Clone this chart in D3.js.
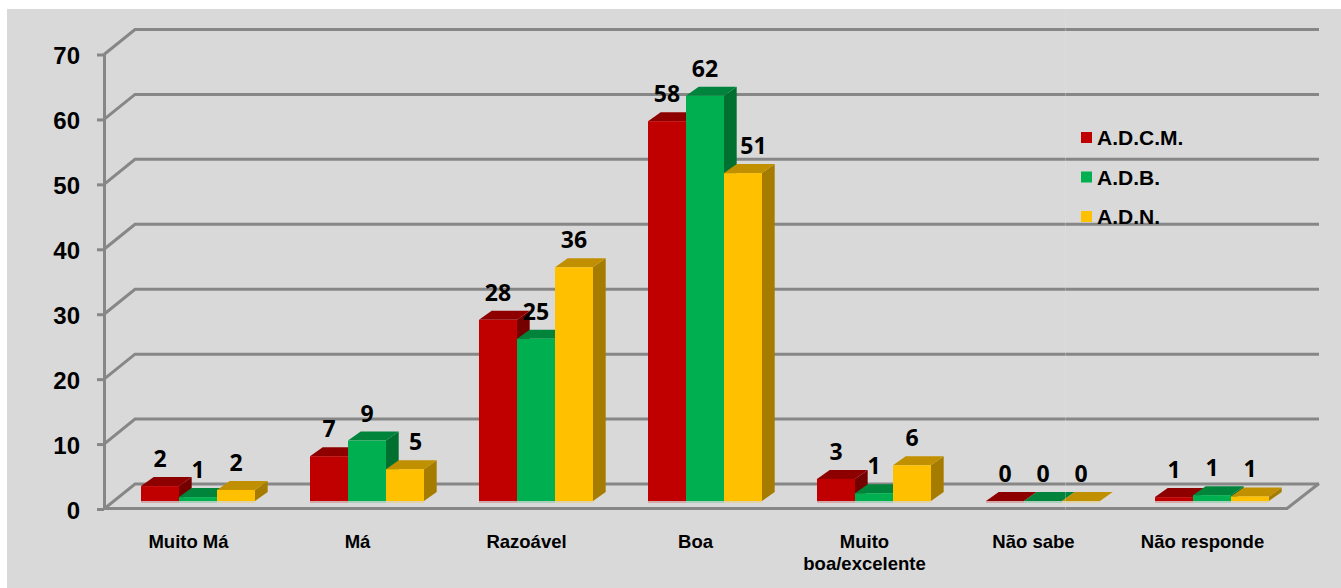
<!DOCTYPE html>
<html lang="pt">
<head>
<meta charset="utf-8">
<script src="https://cdn.jsdelivr.net/npm/d3@7/dist/d3.min.js"></script>
<style>
html,body{margin:0;padding:0;background:#fff;overflow:hidden}
svg{display:block}
</style>
</head>
<body>
<svg id="chart" width="1341" height="588"></svg>
<script>
const categories = ["Muito Má","Má","Razoável","Boa","Muito boa/excelente","Não sabe","Não responde"];
const seriesNames = ["A.D.C.M.","A.D.B.","A.D.N."];
const tickValues = [0,10,20,30,40,50,60,70];
// Drawn heights
const adcm = [2.3,6.9,27.9,58.5,3.4,0,0.6];
const adb  = [0.6,9.3,25,62.4,1.2,0,0.9];
const adn  = [1.7,4.9,36,50.5,5.5,0,0.7];
// Printed data labels
const adcmLabels = [2,7,28,58,3,0,1];
const adbLabels  = [1,9,25,62,1,0,1];
const adnLabels  = [2,5,36,51,6,0,1];

const faces = [
  {front:"#C00000",top:"#8E0000",side:"#750000"},
  {front:"#00B050",top:"#00843C",side:"#007030"},
  {front:"#FFC000",top:"#C09000",side:"#A67C00"}
];
const lineColor = "#878787";
const svg = d3.select("#chart");
svg.append("rect").attr("x",7).attr("y",9).attr("width",1334).attr("height",579).attr("fill","#D9D9D9");

const y = d3.scaleLinear().domain([0,70]).range([509,54.5]);
const x = d3.scaleBand().domain(categories).range([104,1287]);
const gap = 27.5;
const inner = d3.scaleBand().domain(seriesNames).range([gap, x.bandwidth()-gap]);
const wallDX = 31, wallDY = -25;          // full depth of the floor
const barOX = 9.5, barOY = -8;            // bars stand inside the floor
const barDX = 12.7, barDY = -9;           // depth of one bar

// gridlines on the walls
const grid = svg.append("g").attr("fill","none").attr("stroke",lineColor).attr("stroke-width",3);
tickValues.forEach(t=>{
  const p = d3.path();
  p.moveTo(104,y(t));
  p.lineTo(104+wallDX,y(t)+wallDY);
  p.lineTo(1319,y(t)+wallDY);
  grid.append("path").attr("d",p.toString()).attr("stroke-linejoin","miter");
});
// floor outline front + right
const floor = d3.path();
floor.moveTo(104,y(0)-0.5);
floor.lineTo(1287,y(0)-0.5);
floor.lineTo(1287+wallDX+1,y(0)+wallDY-0.5);
grid.append("path").attr("d",floor.toString());

// axis with ticks
const axis = d3.axisLeft(y).tickValues(tickValues).tickSize(7).tickSizeOuter(0).tickPadding(17);
const ag = svg.append("g").attr("transform","translate(104,0)").call(axis);
ag.select(".domain").attr("stroke",lineColor).attr("stroke-width",3);
ag.selectAll(".tick line").attr("stroke",lineColor).attr("stroke-width",3);
ag.selectAll(".tick text")
  .attr("fill","#000").attr("dy",null).attr("dominant-baseline",null)
  .attr("y",9)
  .style("font","bold 24px 'Liberation Sans',Arial,sans-serif");

// bars
const seriesData = [
  {name:seriesNames[0],values:adcm,labels:adcmLabels,c:faces[0]},
  {name:seriesNames[1],values:adb,labels:adbLabels,c:faces[1]},
  {name:seriesNames[2],values:adn,labels:adnLabels,c:faces[2]}
];
const bars = svg.append("g");
const poly = pts => pts.map(p=>p.join(",")).join(" ");
categories.forEach((c,ci)=>{
  seriesData.forEach(s=>{
    const x0 = x(c)+inner(s.name)+barOX, w = inner.bandwidth();
    const base = y(0)+barOY, top = y(s.values[ci])+barOY;
    const g = bars.append("g");
    g.append("polygon").attr("fill",s.c.side)
      .attr("points",poly([[x0+w,top],[x0+w+barDX,top+barDY],[x0+w+barDX,base+barDY],[x0+w,base]]));
    g.append("polygon").attr("fill",s.c.top)
      .attr("points",poly([[x0,top],[x0+barDX,top+barDY],[x0+w+barDX,top+barDY],[x0+w,top]]));
    g.append("rect").attr("x",x0).attr("y",top).attr("width",w).attr("height",base-top).attr("fill",s.c.front);
    g.append("rect").attr("x",x0).attr("y",base).attr("width",w).attr("height",2).attr("fill",s.c.front).attr("opacity",0.22);
  });
});
// data labels: a label is pushed right when the taller neighbour's side face would sit behind it
const dl = svg.append("g").attr("text-anchor","middle").attr("fill","#000")
  .style("font","bold 23px 'Open Sans',sans-serif");
categories.forEach((c,ci)=>{
  seriesData.forEach((s,si)=>{
    const baseline = y(s.values[ci])+barOY-19;
    let shift = 0;
    if(si>0){
      const prevBack = y(seriesData[si-1].values[ci])+barOY+barDY;
      if(prevBack < baseline-17) shift = 10.5;
    }
    dl.append("text")
      .attr("x",x(c)+inner(s.name)+barOX+inner.bandwidth()/2+shift)
      .attr("y",baseline)
      .text(s.labels[ci]);
  });
});
// category labels
const catG = svg.append("g").attr("text-anchor","middle").attr("fill","#000")
  .style("font","bold 18.5px 'Liberation Sans',Arial,sans-serif");
const wrapped = {"Muito boa/excelente":["Muito","boa/excelente"]};
categories.forEach(c=>{
  (wrapped[c]||[c]).forEach((line,i)=>{
    catG.append("text").attr("x",x(c)+x.bandwidth()/2).attr("y",548+i*22).text(line);
  });
});
// legend
const legendY = d3.scalePoint().domain(seriesNames).range([137.5,216.5]);
const lg = svg.append("g");
seriesData.forEach(s=>{
  lg.append("rect").attr("x",1081).attr("y",legendY(s.name)-5.5).attr("width",11).attr("height",11).attr("fill",s.c.front);
  lg.append("text").attr("x",1097).attr("y",legendY(s.name)+7.5).attr("fill","#000")
    .style("font","bold 21px 'Liberation Sans',Arial,sans-serif").text(s.name);
});
// faint vertical seam visible in the picture
svg.append("line").attr("x1",1065.5).attr("x2",1065.5).attr("y1",9).attr("y2",510)
  .attr("stroke","#E4E4E4").attr("stroke-width",1).attr("opacity",0.3);
</script>
</body>
</html>
